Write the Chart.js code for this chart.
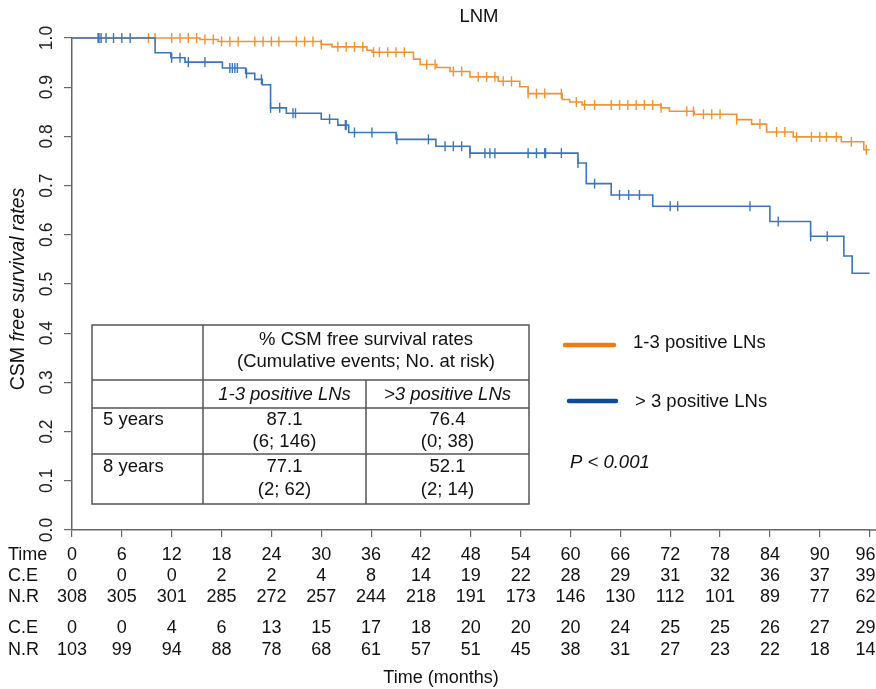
<!DOCTYPE html>
<html>
<head>
<meta charset="utf-8">
<script src="https://cdn.jsdelivr.net/npm/chart.js@4/dist/chart.umd.min.js"></script>
<style>
  html, body { margin: 0; padding: 0; background: #fff; }
  #wrap { position: relative; width: 876px; height: 689px; }
</style>
</head>
<body>
<div id="wrap"><canvas id="km" width="876" height="689"></canvas></div>
<script>
// Kaplan-Meier steps: time (months) of each drop and survival after it
const lowTimes = [0, 15.4, 17.6, 30.0, 31.3, 35.5, 36.1, 41.1, 41.9, 43.9, 45.5, 47.9, 51.3, 53.9, 54.9, 59.0, 59.9, 61.4, 70.9, 71.9, 74.9, 80.0, 81.8, 83.6, 86.8, 92.6, 95.3, 96.0];
const lowSurv  = [1.0, 0.997, 0.993, 0.987, 0.982, 0.975, 0.971, 0.957, 0.946, 0.940, 0.932, 0.921, 0.912, 0.901, 0.887, 0.875, 0.870, 0.864, 0.858, 0.851, 0.845, 0.834, 0.825, 0.809, 0.799, 0.789, 0.773, 0.773];
const highTimes = [0, 10.0, 11.9, 13.6, 18.1, 20.9, 22.0, 22.9, 23.9, 25.8, 30.0, 32.0, 33.3, 39.0, 43.8, 47.9, 60.9, 61.9, 64.9, 69.9, 84.0, 88.9, 92.9, 93.9, 96.0];
const highSurv  = [1.0, 0.970, 0.960, 0.951, 0.939, 0.928, 0.916, 0.905, 0.858, 0.847, 0.835, 0.823, 0.808, 0.794, 0.780, 0.766, 0.746, 0.704, 0.681, 0.658, 0.627, 0.597, 0.557, 0.522, 0.522];

// censoring marks (months)
const lowCensor = [3.1, 3.3, 9.2, 10.0, 12, 13, 14, 15, 16, 17, 18, 19, 20, 22, 23, 24, 24.9, 27, 28, 29, 30.0, 32, 33, 34, 35, 36.3, 37, 38, 39, 40, 42.7, 43.7, 45.9, 46.9, 48.9, 49.9, 50.9, 51.9, 52.9, 54.9, 55.9, 56.9, 58.9, 60.7, 61.7, 62.9, 64.9, 65.9, 66.9, 67.9, 68.9, 69.9, 70.9, 74.0, 74.8, 76.0, 77.0, 78.0, 80.0, 82.8, 84.8, 85.8, 87.2, 89.0, 90.0, 90.8, 92.0, 93.8, 95.6];
const highCensor = [3.2, 3.5, 4.1, 5.0, 6.0, 7.0, 12.0, 13.0, 14.0, 16.0, 19.0, 19.3, 19.6, 19.9, 21.0, 22.8, 23.9, 25.0, 26.6, 26.9, 31.0, 32.9, 33.0, 34.0, 36.1, 39.1, 42.9, 44.9, 45.9, 46.9, 47.9, 49.7, 50.3, 50.9, 54.9, 55.9, 56.9, 57.0, 58.9, 60.9, 62.9, 65.9, 67.0, 68.3, 72.0, 72.9, 81.6, 85.0, 88.9, 90.9];

// numbers at risk table
const riskTimes = [0, 6, 12, 18, 24, 30, 36, 42, 48, 54, 60, 66, 72, 78, 84, 90, 96];
const lowCE  = [0, 0, 0, 2, 2, 4, 8, 14, 19, 22, 28, 29, 31, 32, 36, 37, 39];
const lowNR  = [308, 305, 301, 285, 272, 257, 244, 218, 191, 173, 146, 130, 112, 101, 89, 77, 62];
const highCE = [0, 0, 4, 6, 13, 15, 17, 18, 20, 20, 20, 24, 25, 25, 26, 27, 29];
const highNR = [103, 99, 94, 88, 78, 68, 61, 57, 51, 45, 38, 31, 27, 23, 22, 18, 14];

// inset table
const insetHeader = ['% CSM free survival rates', '(Cumulative events; No. at risk)'];
const insetGroups = ['1-3 positive LNs', '>3 positive LNs'];
const insetRows = ['5 years', '8 years'];
const insetRates = [['87.1', '76.4'], ['77.1', '52.1']];
const insetCounts = [['(6; 146)', '(0; 38)'], ['(2; 62)', '(2; 14)']];

const legendNames = ['1-3 positive LNs', '> 3 positive LNs'];

const ORANGE = '#f39233';
const BLUE = '#3a76bb';
const FONT = '"Liberation Sans", Arial, Helvetica, sans-serif';

function pts(ts, ss) { return ts.map((t, i) => ({ x: t, y: ss[i] })); }
function survAt(ts, ss, t) {
    let v = ss[0];
    for (let i = 0; i < ts.length; i++) { if (ts[i] <= t) v = ss[i]; }
    return v;
}
function censorPts(cs, ts, ss) { return cs.map(t => ({ x: t, y: survAt(ts, ss, t) })); }

const decor = {
    id: 'decor',
    afterDraw(chart) {
        const ctx = chart.ctx;
        const xs = chart.scales.x;
        const area = chart.chartArea;
        ctx.save();

        // axis line runs on to the right edge
        ctx.strokeStyle = '#666';
        ctx.lineWidth = 1.5;
        ctx.beginPath();
        ctx.moveTo(area.right - 1, area.bottom);
        ctx.lineTo(876, area.bottom);
        ctx.stroke();

        ctx.fillStyle = '#111';
        ctx.textBaseline = 'middle';

        // title
        ctx.font = '18.5px ' + FONT;
        ctx.textAlign = 'center';
        ctx.fillText('LNM', 479, 17);

        // y axis title, "CSM" upright + italic rest
        ctx.save();
        ctx.translate(19, 289);
        ctx.rotate(-Math.PI / 2);
        ctx.font = '19.5px ' + FONT;
        const a = 'CSM ';
        const wa = ctx.measureText(a).width;
        ctx.font = 'italic 19.5px ' + FONT;
        const b = 'free survival rates';
        const wb = ctx.measureText(b).width;
        ctx.textAlign = 'left';
        ctx.font = '19.5px ' + FONT;
        ctx.fillText(a, -(wa + wb) / 2, 0);
        ctx.font = 'italic 19.5px ' + FONT;
        ctx.fillText(b, -(wa + wb) / 2 + wa, 0);
        ctx.restore();

        // inset table
        const L = 92, C1 = 203, C2 = 366, R = 529;
        const T = 325, H1 = 380, H2 = 408, H3 = 454, B = 504;
        ctx.strokeStyle = '#555';
        ctx.lineWidth = 1.5;
        ctx.strokeRect(L, T, R - L, B - T);
        ctx.beginPath();
        ctx.moveTo(C1, T); ctx.lineTo(C1, B);
        ctx.moveTo(C2, H1); ctx.lineTo(C2, B);
        ctx.moveTo(L, H1); ctx.lineTo(R, H1);
        ctx.moveTo(L, H2); ctx.lineTo(R, H2);
        ctx.moveTo(L, H3); ctx.lineTo(R, H3);
        ctx.stroke();

        ctx.font = '18.5px ' + FONT;
        ctx.textAlign = 'center';
        ctx.fillText(insetHeader[0], (C1 + R) / 2, 340);
        ctx.fillText(insetHeader[1], (C1 + R) / 2, 362);
        ctx.font = 'italic 18.5px ' + FONT;
        ctx.fillText(insetGroups[0], (C1 + C2) / 2, 395);
        ctx.fillText(insetGroups[1], (C2 + R) / 2, 395);
        ctx.font = '18.5px ' + FONT;
        const rowY = [[420, 442], [467, 490]];
        insetRows.forEach((r, i) => {
            ctx.textAlign = 'left';
            ctx.fillText(r, 103, rowY[i][0]);
            ctx.textAlign = 'center';
            ctx.fillText(insetRates[i][0], (C1 + C2) / 2, rowY[i][0]);
            ctx.fillText(insetCounts[i][0], (C1 + C2) / 2, rowY[i][1]);
            ctx.fillText(insetRates[i][1], (C2 + R) / 2, rowY[i][0]);
            ctx.fillText(insetCounts[i][1], (C2 + R) / 2, rowY[i][1]);
        });

        // legend
        ctx.lineCap = 'round';
        ctx.lineWidth = 4.5;
        ctx.strokeStyle = '#f07d14';
        ctx.beginPath(); ctx.moveTo(565, 345); ctx.lineTo(614, 345); ctx.stroke();
        ctx.strokeStyle = '#0d4b99';
        ctx.beginPath(); ctx.moveTo(569, 401); ctx.lineTo(616, 401); ctx.stroke();
        ctx.font = '18.5px ' + FONT;
        ctx.textAlign = 'left';
        ctx.fillText(legendNames[0], 633, 343);
        ctx.fillText(legendNames[1], 635, 402);
        ctx.font = 'italic 18.5px ' + FONT;
        ctx.fillText('P < 0.001', 570, 463);

        // risk table
        ctx.font = '18px ' + FONT;
        const rows = [
            ['Time', riskTimes, 555],
            ['C.E', lowCE, 576],
            ['N.R', lowNR, 597],
            ['C.E', highCE, 628],
            ['N.R', highNR, 650]
        ];
        rows.forEach(([lab, vals, y]) => {
            ctx.textAlign = 'left';
            ctx.fillText(lab, 8, y);
            ctx.textAlign = 'center';
            vals.forEach((v, i) => {
                let px = xs.getPixelForValue(riskTimes[i]);
                if (i === vals.length - 1) px -= 4;
                ctx.fillText(String(v), px, y);
            });
        });
        ctx.fillText('Time (months)', 441, 678);
        ctx.restore();
    }
};

new Chart(document.getElementById('km'), {
    type: 'line',
    data: {
        datasets: [
            { data: censorPts(highCensor, highTimes, highSurv), showLine: false, pointStyle: 'line', rotation: 90, pointRadius: 5, borderColor: BLUE, borderWidth: 1.4, clip: false },
            { data: pts(highTimes, highSurv), stepped: true, borderColor: BLUE, borderWidth: 1.6, pointRadius: 0, fill: false, clip: false },
            { data: censorPts(lowCensor, lowTimes, lowSurv), showLine: false, pointStyle: 'line', rotation: 90, pointRadius: 5, borderColor: ORANGE, borderWidth: 1.4, clip: false },
            { data: pts(lowTimes, lowSurv), stepped: true, borderColor: ORANGE, borderWidth: 1.6, pointRadius: 0, fill: false, clip: false }
        ]
    },
    options: {
        responsive: false,
        animation: false,
        events: [],
        layout: { padding: { top: 38, left: 0, right: 0, bottom: 0 } },
        plugins: { legend: { display: false }, tooltip: { enabled: false }, title: { display: false } },
        scales: {
            x: {
                type: 'linear', min: 0, max: 96,
                afterFit: s => { s.height = 159; },
                border: { display: true, color: '#666', width: 1.5 },
                grid: { display: true, drawOnChartArea: false, drawTicks: true, tickLength: 7, color: '#666', lineWidth: 1.2 },
                ticks: { stepSize: 6, includeBounds: false, autoSkip: false, callback: () => '', padding: 0 }
            },
            y: {
                type: 'linear', min: 0, max: 1,
                afterFit: s => { s.width = 72; },
                border: { display: true, color: '#666', width: 1.5 },
                grid: { display: true, drawOnChartArea: false, drawTicks: true, tickLength: 8, color: '#666', lineWidth: 1.2 },
                ticks: {
                    stepSize: 0.1, minRotation: 90, maxRotation: 90, crossAlign: 'center', padding: 5,
                    color: '#222', font: { family: FONT, size: 17.5 },
                    callback: v => v.toFixed(1)
                }
            }
        }
    },
    plugins: [decor]
});
</script>
</body>
</html>
